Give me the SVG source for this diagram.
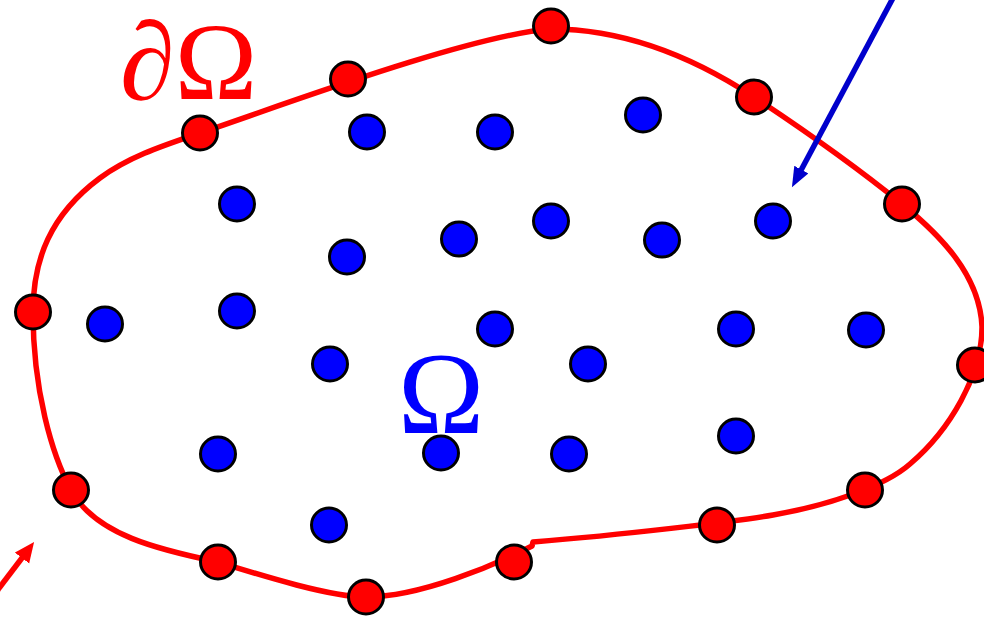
<svg xmlns="http://www.w3.org/2000/svg" width="984" height="619" viewBox="0 0 984 619">
<style>
.bnd{fill:none;stroke:#ff0000;stroke-width:5.5;stroke-linejoin:round}
.rd{fill:#ff0000;stroke:#000;stroke-width:3}
.bd{fill:#0000ff;stroke:#000;stroke-width:3}
.lbl{font-family:"Liberation Serif","Times New Roman",serif;font-size:116px}
</style>
<defs>
<marker id="hb" markerUnits="userSpaceOnUse" markerWidth="22" markerHeight="18" refX="5" refY="8" orient="auto">
<path d="M0,0 L20,8 L0,16 z" fill="#0000cc"/>
</marker>
<marker id="hr" markerUnits="userSpaceOnUse" markerWidth="22" markerHeight="20" refX="5" refY="9" orient="auto">
<path d="M0,0 L20,9 L0,18 z" fill="#ff0000"/>
</marker>
</defs>
<g id="boundary">
<path class="bnd" d="M551,29 C620,29 690,55 754,97 C810,134 860,170 902,204 C940,235 980,275 982,327 C982,375 950,430 910,464 C885,486 830,505 773,515 C740,521 620,535 533,542 L532,546 C495,565 420,597 366,597 C330,597 260,575 218,562 C160,550 95,535 71,490 C52,455 33,390 33,312 C33,260 50,215 100,178 C130,156 165,145 200,133 C280,106 470,35 551,29 Z"/>
</g>
<g id="connectors">
<line x1="893" y1="-2" x2="799" y2="174" stroke="#0000cc" stroke-width="5.5" marker-end="url(#hb)"/>
<line x1="-10" y1="600" x2="25" y2="554" stroke="#ff0000" stroke-width="5.5" marker-end="url(#hr)"/>
</g>
<g id="boundary-nodes">
<ellipse class="rd" cx="551" cy="26" rx="17.5" ry="17"/>
<ellipse class="rd" cx="348" cy="79" rx="17.5" ry="17"/>
<ellipse class="rd" cx="200" cy="133" rx="17.5" ry="17"/>
<ellipse class="rd" cx="754" cy="97" rx="17.5" ry="17"/>
<ellipse class="rd" cx="902" cy="204" rx="17.5" ry="17"/>
<ellipse class="rd" cx="33" cy="312" rx="17.5" ry="17"/>
<ellipse class="rd" cx="975" cy="365" rx="17.5" ry="17"/>
<ellipse class="rd" cx="71" cy="490" rx="17.5" ry="17"/>
<ellipse class="rd" cx="865" cy="490" rx="17.5" ry="17"/>
<ellipse class="rd" cx="218" cy="562" rx="17.5" ry="17"/>
<ellipse class="rd" cx="717" cy="525" rx="17.5" ry="17"/>
<ellipse class="rd" cx="514" cy="562" rx="17.5" ry="17"/>
<ellipse class="rd" cx="366" cy="597" rx="17.5" ry="17"/>
</g>
<g id="interior-nodes">
<ellipse class="bd" cx="367" cy="132" rx="17.5" ry="17"/>
<ellipse class="bd" cx="495" cy="132" rx="17.5" ry="17"/>
<ellipse class="bd" cx="643" cy="115" rx="17.5" ry="17"/>
<ellipse class="bd" cx="237" cy="204" rx="17.5" ry="17"/>
<ellipse class="bd" cx="551" cy="221" rx="17.5" ry="17"/>
<ellipse class="bd" cx="459" cy="239" rx="17.5" ry="17"/>
<ellipse class="bd" cx="662" cy="240" rx="17.5" ry="17"/>
<ellipse class="bd" cx="773" cy="221" rx="17.5" ry="17"/>
<ellipse class="bd" cx="347" cy="257" rx="17.5" ry="17"/>
<ellipse class="bd" cx="105" cy="324" rx="17.5" ry="17"/>
<ellipse class="bd" cx="237" cy="311" rx="17.5" ry="17"/>
<ellipse class="bd" cx="495" cy="329" rx="17.5" ry="17"/>
<ellipse class="bd" cx="736" cy="329" rx="17.5" ry="17"/>
<ellipse class="bd" cx="866" cy="330" rx="17.5" ry="17"/>
<ellipse class="bd" cx="330" cy="364" rx="17.5" ry="17"/>
<ellipse class="bd" cx="588" cy="364" rx="17.5" ry="17"/>
<ellipse class="bd" cx="736" cy="436" rx="17.5" ry="17"/>
<ellipse class="bd" cx="218" cy="454" rx="17.5" ry="17"/>
<ellipse class="bd" cx="441" cy="453" rx="17.5" ry="17"/>
<ellipse class="bd" cx="569" cy="454" rx="17.5" ry="17"/>
<ellipse class="bd" cx="329" cy="525" rx="17.5" ry="17"/>
</g>
<g id="labels">
<text class="lbl" x="120" y="99" fill="#ff0000" style="font-size:111px">∂Ω</text>
<text class="lbl" x="398" y="433" fill="#0000ff">Ω</text>
</g>
</svg>
